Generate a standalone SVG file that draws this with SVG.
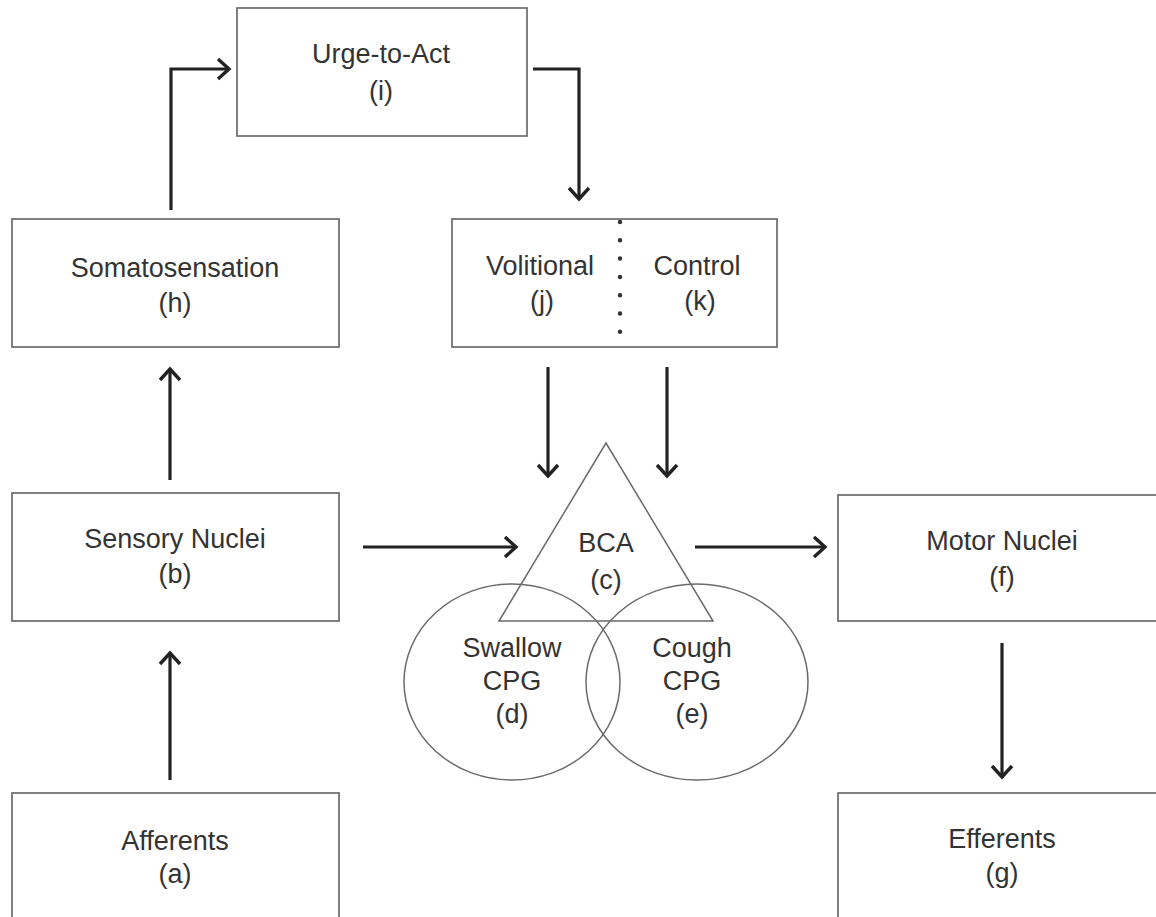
<svg xmlns="http://www.w3.org/2000/svg" width="1156" height="917" viewBox="0 0 1156 917">
<defs>
<style>
.box{fill:#fff;stroke:#6a6a6a;stroke-width:1.7}
.shape{fill:none;stroke:#6a6a6a;stroke-width:1.5}
.t{font-family:"Liberation Sans",Arial,sans-serif;font-size:27px;fill:#333;text-anchor:middle}
.c{fill:none;stroke:#222;stroke-width:3.2;marker-end:url(#ah)}
</style>
<marker id="ah" markerUnits="userSpaceOnUse" markerWidth="30" markerHeight="30" viewBox="-15 -15 30 30" refX="0" refY="0" orient="auto">
<path d="M-11,-10 L0,0 L-11,10" fill="none" stroke="#222" stroke-width="3.4"/>
</marker>
</defs>
<rect width="1156" height="917" fill="#fff"/>
<g id="connectors">
<path class="c" d="M170,780 V653"/>
<path class="c" d="M170,480 V369"/>
<path class="c" d="M171,210 V69 H229"/>
<path class="c" d="M533,69 H579 V199"/>
<path class="c" d="M548,367 V476"/>
<path class="c" d="M667,367 V476"/>
<path class="c" d="M363,547 H516"/>
<path class="c" d="M695,547 H825"/>
<path class="c" d="M1002,643 V777"/>
</g>
<g id="node-i">
<rect class="box" x="237" y="8" width="290" height="128"/>
<text class="t" x="381" y="63">Urge-to-Act</text>
<text class="t" x="381" y="100">(i)</text>
</g>
<g id="node-h">
<rect class="box" x="12" y="219" width="327" height="128"/>
<text class="t" x="175" y="277">Somatosensation</text>
<text class="t" x="175" y="312">(h)</text>
</g>
<g id="node-jk">
<rect class="box" x="452" y="219" width="325" height="128"/>
<line x1="620" y1="222" x2="620" y2="334" stroke="#333" stroke-width="4.5" stroke-linecap="round" stroke-dasharray="0 18.3"/>
<text class="t" x="540" y="275">Volitional</text>
<text class="t" x="542" y="310">(j)</text>
<text class="t" x="697" y="275">Control</text>
<text class="t" x="700" y="310">(k)</text>
</g>
<g id="node-b">
<rect class="box" x="12" y="493" width="327" height="128"/>
<text class="t" x="175" y="548">Sensory Nuclei</text>
<text class="t" x="175" y="583">(b)</text>
</g>
<g id="node-a">
<rect class="box" x="12" y="793" width="327" height="200"/>
<text class="t" x="175" y="850">Afferents</text>
<text class="t" x="175" y="883">(a)</text>
</g>
<g id="node-c">
<polygon class="shape" points="606,443 499,621 713,621"/>
<text class="t" x="606" y="552">BCA</text>
<text class="t" x="606" y="589">(c)</text>
</g>
<g id="node-d">
<ellipse class="shape" cx="512" cy="682" rx="108" ry="98"/>
<text class="t" x="512" y="657">Swallow</text>
<text class="t" x="512" y="690">CPG</text>
<text class="t" x="512" y="723">(d)</text>
</g>
<g id="node-e">
<ellipse class="shape" cx="697" cy="682" rx="111" ry="98"/>
<text class="t" x="692" y="657">Cough</text>
<text class="t" x="692" y="690">CPG</text>
<text class="t" x="692" y="723">(e)</text>
</g>
<g id="node-f">
<rect class="box" x="838" y="495" width="340" height="126"/>
<text class="t" x="1002" y="550">Motor Nuclei</text>
<text class="t" x="1002" y="586">(f)</text>
</g>
<g id="node-g">
<rect class="box" x="838" y="793" width="340" height="200"/>
<text class="t" x="1002" y="848">Efferents</text>
<text class="t" x="1002" y="882">(g)</text>
</g>
</svg>
